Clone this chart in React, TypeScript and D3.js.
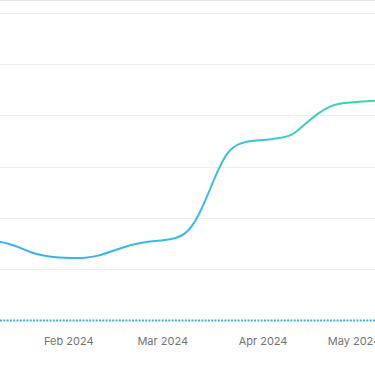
import React from "react";
import * as d3 from "d3";

const W = 375;
const H = 366;

// observations every 4 days starting Jan 1 2024
const startDate = "2024-01-01";
const stepDays = 4;
const values = [
  32.9, 32.0, 31.2, 30.0, 28.3, 26.3, 25.2, 24.6, 24.4, 24.5, 25.3, 26.9, 28.6, 29.9, 30.8, 31.3, 32.2,
  35.3, 43.6, 55.4, 65.2, 69.0, 70.1, 70.5, 71.2, 72.6, 76.6, 80.7, 83.6, 84.8, 85.2, 85.6, 85.8,
];
const yTicks = [0, 20, 40, 60, 80, 100, 120];
const xTickDates = ["2024-01-01", "2024-02-01", "2024-03-01", "2024-04-01", "2024-05-01"];

const parse = d3.utcParse("%Y-%m-%d");

export default function App() {
  const start = parse(startDate) as Date;
  const data = values.map((v, i) => ({ date: d3.utcDay.offset(start, i * stepDays), value: v }));

  const x = d3
    .scaleUtc()
    .domain([parse("2024-01-01") as Date, parse("2024-05-05") as Date])
    .range([-31.5, -31.5 + 3.237 * 125]);
  const y = d3.scaleLinear().domain([0, 125]).range([320.5, 0]);

  const line = d3
    .line<{ date: Date; value: number }>()
    .x((d) => x(d.date))
    .y((d) => y(d.value))
    .curve(d3.curveNatural);

  const fmt = d3.utcFormat("%b %Y");

  return (
    <svg
      width={W}
      height={H}
      style={{ position: "absolute", left: 0, top: 0, background: "#fff" }}
      fontFamily="Inter, 'Noto Sans', sans-serif"
    >
      <defs>
        <linearGradient id="lg" gradientUnits="userSpaceOnUse" x1={0} y1={0} x2={W} y2={0}>
          <stop offset="0" stopColor="#36b2f0" />
          <stop offset="0.55" stopColor="#3abbe9" />
          <stop offset="0.8" stopColor="#38d0c4" />
          <stop offset="1" stopColor="#36d6b0" />
        </linearGradient>
      </defs>
      <line x1={0} x2={W} y1={0.5} y2={0.5} stroke="#e6e6e6" strokeWidth={1} />
      {yTicks
        .filter((t) => t > 0)
        .map((t) => (
          <line
            key={t}
            x1={0}
            x2={W}
            y1={Math.round(y(t)) + 0.5}
            y2={Math.round(y(t)) + 0.5}
            stroke="#efefef"
            strokeWidth={1}
          />
        ))}
      <line
        x1={0}
        x2={W}
        y1={y(0)}
        y2={y(0)}
        stroke="#3aaee6"
        strokeWidth={2}
        strokeDasharray="2 1.3"
      />
      <path d={line(data) || ""} fill="none" stroke="url(#lg)" strokeWidth={2} strokeLinecap="round" />
      {xTickDates.map((s) => {
        const d = parse(s) as Date;
        return (
          <text
            key={s}
            x={Math.min(x(d), W - 21)}
            y={344.5}
            textAnchor="middle"
            fontSize={11}
            fill="#737373"
          >
            {fmt(d)}
          </text>
        );
      })}
    </svg>
  );
}
